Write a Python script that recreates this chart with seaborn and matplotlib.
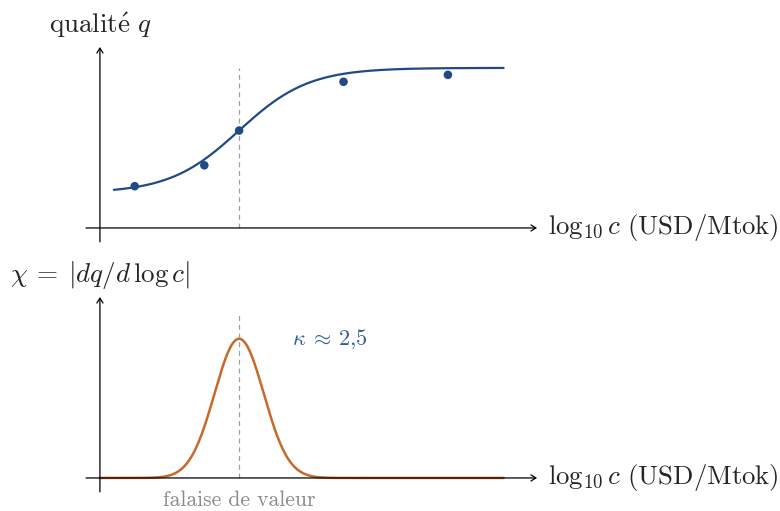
import numpy as np
import pandas as pd
import matplotlib
matplotlib.use("Agg")
import matplotlib.pyplot as plt
import seaborn as sns

# Observed (log10 cost, quality) points
obs_logc = [1.0, 3.0, 4.0, 7.0, 10.0]
obs_q = [1.2, 1.8, 2.8, 4.2, 4.4]

# Fitted logistic quality curve parameters
q_low, q_high = 1.0, 4.6
cliff_x = 4.0
slope_k = 1.0
curve_range = (0.4, 11.6)

# Susceptibility bump chi = |dq / d log c|
chi_peak = 4.0
chi_width = 1.0
chi_range = (0.0, 11.6)

kappa_label = r"$\kappa\:\approx\:2{,}5$"
cliff_label = "falaise de valeur"
x_label = r"$\log_{10} c\ \mathrm{(USD/Mtok)}$"
q_label = r"$\mathrm{qualit\acute{e}}\ q$"
chi_label = r"$\chi\:=\:|dq/d\,\log c|$"

BLUE = "#1f4a85"
ORANGE = "#c8692a"
KAPPA_BLUE = "#2f5c9c"
GREY = "#a0a0a0"

sns.set_style("white")
plt.rcParams["mathtext.fontset"] = "cm"
plt.rcParams["font.family"] = ["cmr10", "DejaVu Serif"]
plt.rcParams["axes.formatter.use_mathtext"] = True

W, H = 780, 511
fig = plt.figure(figsize=(W / 100, H / 100), dpi=100)

unit = 34.8
x0_px = 86
xlim = (-0.4, 12.6)
ylim = (-0.4, 5.2)


def panel(top_px):
    h = (ylim[1] - ylim[0]) * unit
    w = (xlim[1] - xlim[0]) * unit
    ax = fig.add_axes([x0_px / W, (H - top_px - h) / H, w / W, h / H])
    ax.set_xlim(*xlim)
    ax.set_ylim(*ylim)
    ax.axis("off")
    arrow = dict(arrowstyle="->,head_length=0.35,head_width=0.22", lw=0.9, color="black",
                 shrinkA=0, shrinkB=0)
    ax.annotate("", xy=(12.56, 0), xytext=(-0.4, 0), arrowprops=arrow)
    ax.annotate("", xy=(0, 5.2), xytext=(0, -0.4), arrowprops=arrow)
    ax.text(12.88, 0, x_label, ha="left", va="center", fontsize=19.3, clip_on=False)
    return ax


# Top panel: quality vs cost
ax1 = panel(47)
xs = np.linspace(*curve_range, 400)
top_df = pd.DataFrame({"logc": xs,
                       "q": q_low + (q_high - q_low) / (1 + np.exp(-slope_k * (xs - cliff_x)))})
ax1.plot([cliff_x, cliff_x], [0, 4.6], color=GREY, lw=0.9, dashes=(4, 3))
sns.lineplot(data=top_df, x="logc", y="q", ax=ax1, color=BLUE, lw=1.6)
sns.scatterplot(x=obs_logc, y=obs_q, ax=ax1, color=BLUE, s=38, edgecolor="none", zorder=5)
ax1.axis("off")
ax1.text(0, 5.83, q_label, ha="center", va="center", fontsize=19.5, clip_on=False)

# Bottom panel: susceptibility
ax2 = panel(297)
xs2 = np.linspace(*chi_range, 600)
bot_df = pd.DataFrame({"logc": xs2,
                       "chi": chi_peak * np.exp(-((xs2 - cliff_x) / chi_width) ** 2)})
ax2.plot([cliff_x, cliff_x], [0, 4.77], color=GREY, lw=0.9, dashes=(4, 3))
sns.lineplot(data=bot_df, x="logc", y="chi", ax=ax2, color=ORANGE, lw=1.8)
ax2.axis("off")
ax2.text(0, 5.83, chi_label, ha="center", va="center", fontsize=19.5, clip_on=False)
ax2.text(5.52, 4.0, kappa_label, ha="left", va="center", fontsize=16,
         color=KAPPA_BLUE, clip_on=False)
ax2.text(cliff_x, -0.63, cliff_label, ha="center", va="center", fontsize=15.5,
         color="#8a8a8a", clip_on=False)

fig.savefig("out.png", dpi=100)
